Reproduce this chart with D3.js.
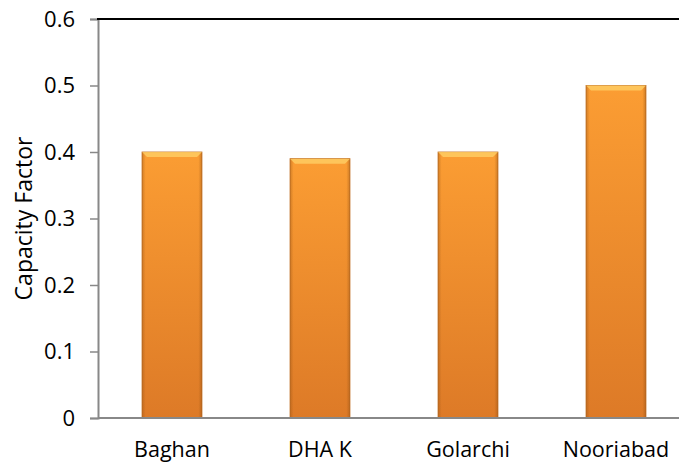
<!DOCTYPE html>
<html>
<head>
<meta charset="utf-8">
<script src="https://cdn.jsdelivr.net/npm/d3@7"></script>
<style>
  body { margin: 0; background: #fff; }
  svg { display: block; }
</style>
</head>
<body>
<script>
const categories = ["Baghan", "DHA K", "Golarchi", "Nooriabad"];
const values = [0.4, 0.39, 0.4, 0.5];
const yTicks = [0, 0.1, 0.2, 0.3, 0.4, 0.5, 0.6];

const width = 679, height = 462;
const margin = {top: 19, right: -11, bottom: 44, left: 98};
const font = "'Open Sans', sans-serif";

const svg = d3.select("body").append("svg")
    .attr("width", width)
    .attr("height", height)
    .attr("font-family", font);

const x = d3.scaleBand()
    .domain(categories)
    .range([margin.left, width - margin.right])
    .paddingInner(0.595)
    .paddingOuter(0.2975);

const y = d3.scaleLinear()
    .domain([0, 0.6])
    .range([height - margin.bottom, margin.top]);

const defs = svg.append("defs");
const grad = defs.append("linearGradient")
    .attr("id", "barfill")
    .attr("x1", 0).attr("y1", 0).attr("x2", 0).attr("y2", 1);
grad.append("stop").attr("offset", "0%").attr("stop-color", "#fb9d33");
grad.append("stop").attr("offset", "100%").attr("stop-color", "#dd7a27");

const side = defs.append("linearGradient")
    .attr("id", "barside")
    .attr("x1", 0).attr("y1", 0).attr("x2", 1).attr("y2", 0);
side.append("stop").attr("offset", "0%").attr("stop-color", "#8a4a10").attr("stop-opacity", 0.35);
side.append("stop").attr("offset", "6%").attr("stop-color", "#8a4a10").attr("stop-opacity", 0);
side.append("stop").attr("offset", "94%").attr("stop-color", "#8a4a10").attr("stop-opacity", 0);
side.append("stop").attr("offset", "100%").attr("stop-color", "#8a4a10").attr("stop-opacity", 0.4);

const bars = svg.append("g")
  .selectAll("g")
  .data(categories.map((c, i) => ({c, v: values[i]})))
  .join("g");

bars.append("rect")
    .attr("x", d => x(d.c))
    .attr("y", d => y(d.v))
    .attr("width", x.bandwidth())
    .attr("height", d => y(0) - y(d.v))
    .attr("fill", "url(#barfill)")
    .attr("stroke", "#c06e22")
    .attr("stroke-width", 0.8);

bars.append("rect")
    .attr("x", d => x(d.c))
    .attr("y", d => y(d.v))
    .attr("width", x.bandwidth())
    .attr("height", d => y(0) - y(d.v))
    .attr("fill", "url(#barside)");

// bevelled highlight along the top
bars.append("path")
    .attr("d", d => {
      const x0 = x(d.c), x1 = x0 + x.bandwidth(), t = y(d.v);
      return `M${x0},${t}L${x1},${t}L${x1 - 5},${t + 5}L${x0 + 5},${t + 5}Z`;
    })
    .attr("fill", "#ffd36a")
    .attr("opacity", 0.75);

// axes
const yAxis = svg.append("g")
    .attr("transform", `translate(${margin.left},0)`)
    .call(d3.axisLeft(y).tickValues(yTicks).tickSize(8).tickPadding(15)
      .tickFormat(d => d === 0 ? "0" : d3.format(".1f")(d)))
    .attr("font-family", font)
    .attr("font-size", 22);
yAxis.select(".domain").attr("stroke", "#888").attr("stroke-width", 2);
yAxis.selectAll(".tick line").attr("stroke", "#888").attr("stroke-width", 1.5);
yAxis.selectAll(".tick text").attr("fill", "#000");

svg.append("line")
    .attr("x1", margin.left).attr("x2", width)
    .attr("y1", y(0)).attr("y2", y(0))
    .attr("stroke", "#888").attr("stroke-width", 2);

svg.append("line")
    .attr("x1", margin.left - 1).attr("x2", width)
    .attr("y1", y(0.6)).attr("y2", y(0.6))
    .attr("stroke", "#000").attr("stroke-width", 2);

svg.append("g")
    .attr("font-size", 21.5)
  .selectAll("text")
  .data(categories)
  .join("text")
    .attr("x", d => x(d) + x.bandwidth() / 2)
    .attr("y", 457)
    .attr("text-anchor", "middle")
    .text(d => d);

svg.append("text")
    .attr("transform", `translate(32,${(y(0) + y(0.6)) / 2}) rotate(-90)`)
    .attr("text-anchor", "middle")
    .attr("font-size", 23)
    .text("Capacity Factor");
</script>
</body>
</html>
